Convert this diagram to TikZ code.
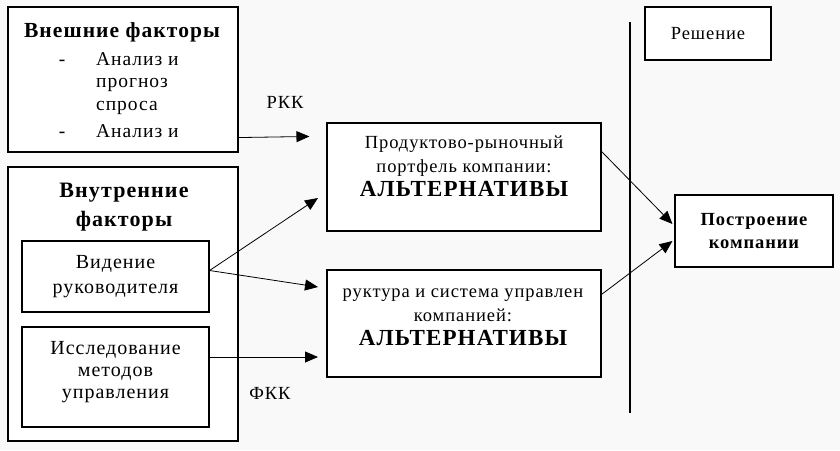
\documentclass[tikz,border=0pt]{standalone}
\usepackage{fontspec}
\setmainfont{Liberation Serif}[LetterSpace=5]
\usetikzlibrary{positioning}
\usetikzlibrary{arrows.meta}
\definecolor{paper}{RGB}{249,249,249}
\tikzset {
  x=1pt, y=-1pt,
  % framed blocks
  box/.style = {draw, line width=1.1pt, fill=white, inner sep=0pt},
  % plain text
  txt/.style = {inner sep=0pt, font=\fontsize{19.5}{25}\selectfont},
  head/.style = {inner sep=0pt, align=center, font=\fontsize{22}{29}\selectfont\bfseries},
  % connectors
  link/.style = {line width=0.8pt, -{Triangle[length=13pt,width=11pt]}},
}
\newcommand{\altword}{{\fontsize{23}{27}\selectfont\bfseries АЛЬТЕРНАТИВЫ}}
\begin{document}
\begin{tikzpicture}
        \useasboundingbox[fill=paper] (0,0) rectangle (840,450);

        % left column
        \node[box, minimum width=230pt, minimum height=145pt] (ext) at (123, 79.5) {};
        \node[head, font=\fontsize{21.5}{29}\selectfont\bfseries] (exttitle) at (122, 32) {Внешние факторы};
        \node[txt, anchor=base] (d1) at (62, 65) {-};
        \node[txt, anchor=base west] (e1) at (96, 65) {Анализ и};
        \node[txt, anchor=base west] (e2) at (96, 87) {прогноз};
        \node[txt, anchor=base west] (e3) at (96, 110) {спроса};
        \node[txt, anchor=base] (d2) at (62, 137) {-};
        \node[txt, anchor=base west] (e4) at (96, 137) {Анализ и};

        \node[box, minimum width=230pt, minimum height=274pt] (int) at (123, 304) {};
        \node[head] (inttitle) at (124, 207) {Внутренние\\факторы};
        \node[box, txt, align=center, font=\fontsize{20}{25}\selectfont, minimum width=187pt, minimum height=71pt] (vid) at (115.5, 276.5)
          {Видение\\руководителя};
        \node[box, minimum width=187pt, minimum height=100pt] (res) at (115.5, 377) {};
        \node[txt, align=center, font=\fontsize{20}{22}\selectfont] (restext) at (115.5, 372)
          {Исследование\\методов\\управления};

        % alternatives
        \node[box, minimum width=274pt, minimum height=108pt] (alt1) at (464, 177) {};
        \node[txt, align=center, font=\fontsize{18.5}{24}\selectfont] (alt1text) at (464, 166)
          {Продуктово-рыночный\\портфель компании:\\\altword};
        \node[box, minimum width=274pt, minimum height=107pt] (alt2) at (464, 323.5) {};
        \node[txt, align=center, font=\fontsize{18.5}{24}\selectfont] (alt2text) at (463, 317)
          {руктура и система управлен\\компанией:\\\altword};

        % decision side
        \coordinate (bartop) at (630, 22);
        \coordinate (barbot) at (630, 413);
        \draw[line width=2.6pt] (bartop) -- (barbot);
        \node[box, txt, font=\fontsize{18.5}{24}\selectfont, minimum width=126pt, minimum height=53pt] (dec) at (708, 33.5)
          {Решение};
        \node[box, txt, align=center, font=\fontsize{18.5}{23}\selectfont\bfseries, minimum width=158pt, minimum height=72pt] (build) at (754, 231)
          {Построение\\компании};

        \node[txt, font=\fontsize{18.5}{24}\selectfont] (rkk) at (285, 102) {РКК};
        \node[txt, font=\fontsize{18.5}{24}\selectfont] (fkk) at (270, 393) {ФКК};

        % arrow ends
        \coordinate (in1) at (318, 198);
        \coordinate (in2) at (318, 287);
        \coordinate (in3) at (318, 357);

        \draw[link] ([yshift=15pt]ext.south east) -- ([yshift=-14pt, xshift=-17pt]alt1.north west);
        \draw[link] ([yshift=6pt]vid.east) -- (in1);
        \draw[link] ([yshift=6pt]vid.east) -- (in2);
        \draw[link] ([yshift=20pt]res.east) -- (in3);

        \draw[link] ([yshift=-29pt]alt1.north east) -- ([yshift=7pt, xshift=-2pt]build.west);
        \draw[link] ([yshift=-25pt]alt2.north east) -- ([yshift=-10pt, xshift=-2pt]build.west);
      \end{tikzpicture}
\end{document}
